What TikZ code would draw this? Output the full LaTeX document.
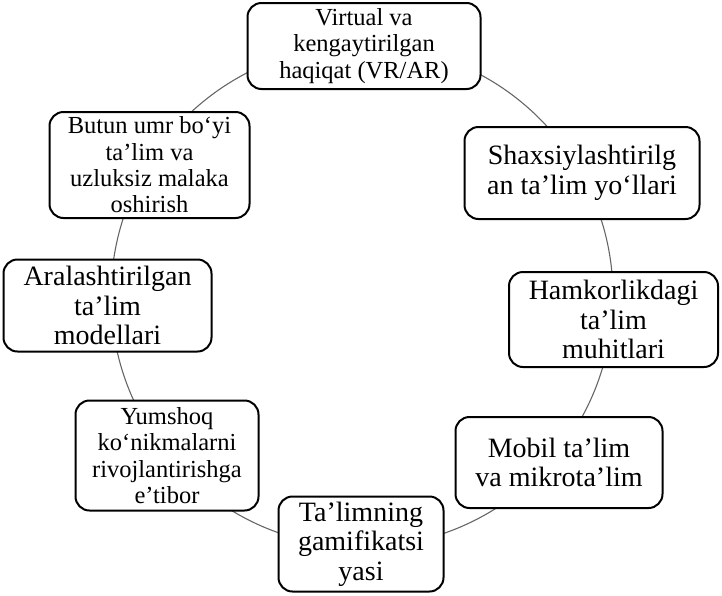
\documentclass[tikz,border=0pt]{standalone}
\usepackage{fontspec}
\setmainfont{Liberation Serif}
\usepackage{xcolor}
\usepackage{tikz}

\begin{document}
\begin{tikzpicture}[x=1pt, y=-1pt, thick,
        box/.style={draw, line width=2pt, rounded corners=14pt, fill=white, align=center, inner sep=0pt},
        big/.style={font=\fontsize{28}{29.5}\selectfont},
        mid/.style={font=\fontsize{24.5}{26.3}\selectfont},
        ring/.style={draw=black!60, line width=1.1pt},
    ]
    \useasboundingbox (0,0) rectangle (722,595);

    % Ring
    \coordinate (hub) at (362, 296);
    \draw[ring] (hub) circle[radius=251];

    % Top
    \node[box, mid, minimum width=233, minimum height=86] (vrar) at (364, 46)
        {Virtual va\\ kengaytirilgan\\ haqiqat (VR/AR)};

    % Right side
    \node[box, big, minimum width=235, minimum height=92] (shaxsiy) at (582, 173)
        {Shaxsiylashtirilg\\ an ta’lim yo‘llari};
    \node[box, big, minimum width=209, minimum height=95] (hamkor) at (613.5, 319.5)
        {Hamkorlikdagi\\ ta’lim\\ muhitlari};
    \node[box, big, minimum width=207, minimum height=91] (mobil) at (559, 462.5)
        {Mobil ta’lim\\ va mikrota’lim};

    % Bottom
    \node[box, big, minimum width=165, minimum height=95] (gamif) at (361, 544)
        {Ta’limning\\ gamifikatsi\\ yasi};

    % Left side
    \node[box, mid, minimum width=183, minimum height=110] (yumshoq) at (167, 455.5)
        {Yumshoq\\ ko‘nikmalarni\\ rivojlantirishga\\ e’tibor};
    \node[box, big, minimum width=208, minimum height=92] (aralash) at (107.5, 305.5)
        {Aralashtirilgan\\ ta’lim\\ modellari};
    \node[box, mid, minimum width=200, minimum height=106] (butun) at (149.5, 165)
        {Butun umr bo‘yi\\ ta’lim va\\ uzluksiz malaka\\ oshirish};

\end{tikzpicture}
\end{document}
